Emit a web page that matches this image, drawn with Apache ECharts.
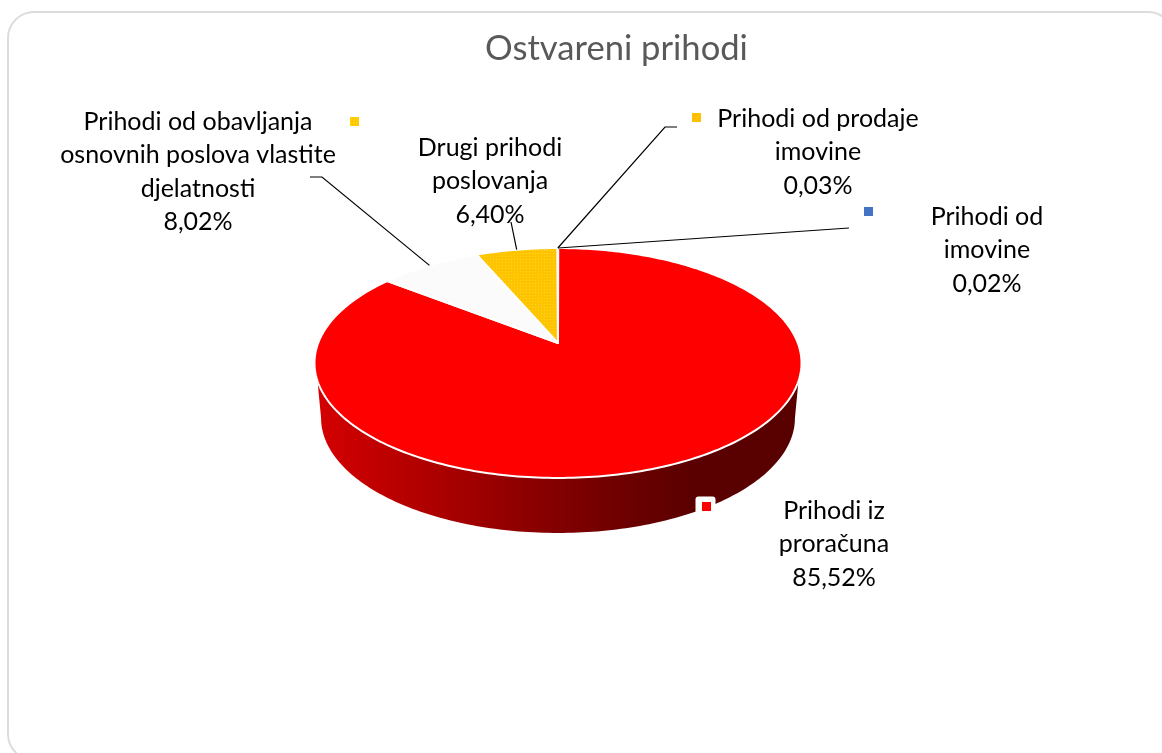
<!DOCTYPE html>
<html>
<head>
<meta charset="utf-8">
<title>Ostvareni prihodi</title>
<style>
  html, body { margin: 0; padding: 0; background: #fff; }
  #chart { width: 1162px; height: 753px; }
</style>
<script src="https://cdn.jsdelivr.net/npm/echarts@6/dist/echarts.min.js"></script>
</head>
<body>
<div id="chart"></div>
<script>
// data, clockwise from 12 o'clock
var categories = [
  "Prihodi od\nimovine",
  "Prihodi iz\nproračuna",
  "Prihodi od obavljanja\nosnovnih poslova vlastite\ndjelatnosti",
  "Drugi prihodi\nposlovanja",
  "Prihodi od prodaje\nimovine"
];
var shares = [0.02, 85.52, 8.02, 6.4, 0.03];
var chartTitle = "Ostvareni prihodi";

// label layout, same order as categories
var labelCenters = [[987, 200], [834, 494], [198, 105], [490, 131], [818, 102]];
var keyBoxes = [[864, 207], [702, 502], [350, 117], null, [692, 113]];
var leaderKnees = [[[849, 228]], null, [[322, 177], [310, 177]], [[511, 222]], [[665, 127], [677, 127]]];

// pie geometry: a circle seen in perspective
var pie = {
  x: 558, y: 343, a: 239.8, b: 111.5, k: 0.1739,
  depth: 55, floorScale: 0.973,
  wallFrom: 108.8, wallTo: 251.2, floorFrom: 100, floorTo: 260
};
var LINE_HEIGHT = 33.5;
var FONT = "Lato, 'Noto Sans', sans-serif";

var chartDom = document.getElementById("chart");
var myChart = echarts.init(chartDom);

var total = shares.reduce(function (s, v) { return s + v; }, 0);

function project(deg, offsetY, scale) {
  var t = (deg * Math.PI) / 180;
  var u = Math.sin(t);
  var v = -Math.cos(t);
  var d = 1 - pie.k * v;
  return [pie.x + (pie.a * scale * u) / d, pie.y + offsetY + (pie.b * v) / d];
}

function arcPoints(from, to, offsetY, scale) {
  var pts = [];
  var n = Math.max(1, Math.ceil(to - from));
  for (var i = 0; i <= n; i++) {
    pts.push(project(from + ((to - from) * i) / n, offsetY, scale));
  }
  return pts;
}

// dotted fill used by the "Drugi prihodi" slice and its key
function dotPattern(base, dot) {
  var c = document.createElement("canvas");
  c.width = 3;
  c.height = 3;
  var ctx = c.getContext("2d");
  ctx.fillStyle = base;
  ctx.fillRect(0, 0, 3, 3);
  ctx.fillStyle = dot;
  ctx.fillRect(1, 1, 1, 1);
  return { image: c, repeat: "repeat" };
}

var sliceFills = ["#4472c4", "#ff0000", "#fbfbfb", dotPattern("#ffc400", "#ffd426"), "#ffc000"];
var keyFills = ["#4472c4", "#ff0000", dotPattern("#ffd000", "#ffb000"), null, "#ffc000"];

var wallGradient = new echarts.graphic.LinearGradient(0, 0, 1, 0, [
  { offset: 0, color: "#d40000" },
  { offset: 0.6, color: "#720000" },
  { offset: 0.78, color: "#5a0000" },
  { offset: 1, color: "#580000" }
]);

function percentText(v) {
  return v.toFixed(2).replace(".", ",") + "%";
}

function renderSlice(params, api) {
  var i = params.dataIndex;
  var before = 0;
  for (var j = 0; j < i; j++) before += shares[j];
  var start = (before / total) * 360;
  var end = ((before + api.value(0)) / total) * 360;
  var children = [];

  // side wall, only the part facing the viewer
  var wFrom = Math.max(start, pie.wallFrom);
  var wTo = Math.min(end, pie.wallTo);
  if (wTo > wFrom) {
    var floor = arcPoints(Math.max(start, pie.floorFrom), Math.min(end, pie.floorTo), pie.depth, pie.floorScale);
    children.push({
      type: "polygon",
      shape: { points: arcPoints(wFrom, wTo, 0, 1).concat(floor.reverse()) },
      style: { fill: wallGradient, stroke: null }
    });
  }

  // top face
  children.push({
    type: "polygon",
    shape: { points: [[pie.x, pie.y]].concat(arcPoints(start, end, 0, 1)) },
    style: { fill: sliceFills[i], stroke: "#fff", lineWidth: 2, lineJoin: "round" }
  });

  // leader line from the rim at the slice's middle
  if (leaderKnees[i]) {
    children.push({
      type: "polyline",
      shape: { points: [project((start + end) / 2, 0, 1)].concat(leaderKnees[i]) },
      style: { fill: null, stroke: "#000", lineWidth: 1.2 },
      z2: 5
    });
  }

  // legend key
  if (keyBoxes[i]) {
    if (i === 1) {
      children.push({
        type: "rect",
        shape: { x: keyBoxes[i][0] - 6.5, y: keyBoxes[i][1] - 5.5, width: 20, height: 19, r: 3 },
        style: { fill: "#fff" },
        z2: 6
      });
    }
    children.push({
      type: "rect",
      shape: { x: keyBoxes[i][0], y: keyBoxes[i][1], width: 9, height: 9 },
      style: { fill: keyFills[i] },
      z2: 7
    });
  }

  // label
  children.push({
    type: "text",
    x: labelCenters[i][0],
    y: labelCenters[i][1],
    style: {
      text: categories[i] + "\n" + percentText(api.value(0)),
      font: "25px " + FONT,
      fill: "#000",
      align: "center",
      verticalAlign: "top",
      lineHeight: LINE_HEIGHT
    },
    z2: 8
  });

  return { type: "group", children: children };
}

var option = {
  animation: false,
  backgroundColor: "#fff",
  title: {
    text: chartTitle,
    left: 611.5,
    top: 26,
    textAlign: "center",
    textStyle: { color: "#595959", fontSize: 34.6, fontWeight: "normal", fontFamily: FONT }
  },
  graphic: [
    {
      type: "rect",
      shape: { x: 8, y: 12, width: 1166, height: 748, r: 26 },
      style: { fill: "none", stroke: "#dcdcdc", lineWidth: 2 },
      silent: true
    }
  ],
  series: [
    {
      type: "custom",
      coordinateSystem: "none",
      renderItem: renderSlice,
      data: shares.map(function (v, i) {
        return { name: categories[i], value: [v] };
      })
    }
  ]
};

myChart.setOption(option);

window.addEventListener("resize", function () {
  myChart.resize();
});
</script>
</body>
</html>
